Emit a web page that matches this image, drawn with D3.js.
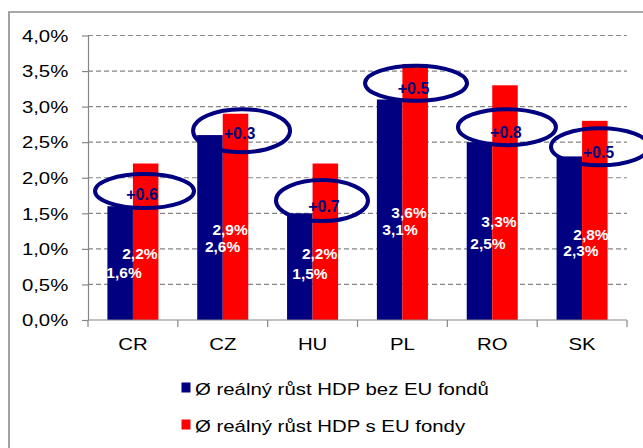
<!DOCTYPE html>
<html>
<head>
<meta charset="utf-8">
<script src="https://cdn.jsdelivr.net/npm/d3@7"></script>
<style>
  html, body { margin: 0; padding: 0; background: #fff; }
  svg { display: block; }
  text { font-family: "Liberation Sans", Arial, sans-serif; }
</style>
</head>
<body>
<svg id="chart" width="643" height="448"></svg>
<script>
// ---- data ----
const categories = ["CR", "CZ", "HU", "PL", "RO", "SK"];
const growthWithoutFunds = [1.6, 2.6, 1.5, 3.1, 2.5, 2.3];
const growthWithFunds = [2.2, 2.9, 2.2, 3.6, 3.3, 2.8];
const yTicks = [0, 0.5, 1.0, 1.5, 2.0, 2.5, 3.0, 3.5, 4.0];
const seriesNames = ["Ø reálný růst HDP bez EU fondů", "Ø reálný růst HDP s EU fondy"];
const titleText = "Průměrný růst s příspěvkem EU fondů a bez nich";

// ---- styling / layout ----
const NAVY = "#000080", RED = "#ff0000", GREY = "#868686";
const FONT_STRETCH = 1.29;
const plot = { left: 88, right: 627, top: 35.5, bottom: 320 };

// value-label anchors: [dx from category centre, height in axis units]
const redLabelAt  = [[7, 0.93], [7.3, 1.27], [7, 0.93], [6.6, 1.51], [6.7, 1.39], [8.9, 1.21]];
const blueLabelAt = [[-8.9, 0.67], [-0.2, 1.03], [-2.6, 0.65], [-2.4, 1.28], [-4.3, 1.07], [-1.1, 0.98]];
// difference callouts: text offset [dx, dy] from blue bar top, ellipse [dx, dy, rx, ry] from text
const calloutText = [[9.1, -11.6], [16.8, -1.4], [11.4, -6.7], [11.1, -10.8], [13.7, -9.5], [16.4, -4.2]];
const calloutRing = [[2.5, -3.5, 49.5, 17], [2, -3, 48.5, 21.5], [-2, -6, 46, 20.5],
                     [2.5, -5.5, 51, 17.5], [1, -5.5, 49, 18], [1.5, -5.5, 49, 18.5]];

const svg = d3.select("#chart");

// title (sits above the frame; only its lowest strokes fall inside the page)
svg.append("text")
  .attr("transform", `translate(22,-3) scale(${FONT_STRETCH},1)`)
  .attr("font-size", 16).attr("font-weight", "bold").attr("fill", "#000")
  .text(titleText);

// chart frame
svg.append("path")
  .attr("d", `M9,460 L9,12 L660,12`)
  .attr("fill", "none").attr("stroke", "#8c8c8c").attr("stroke-width", 1.6);

// scales
const y = d3.scaleLinear().domain([0, 4]).range([plot.bottom, plot.top]);
const pIn = 0.432;
const x = d3.scaleBand().domain(categories).range([plot.left, plot.right])
  .paddingInner(pIn).paddingOuter(pIn / 2);
const xSub = d3.scaleBand().domain([0, 1]).range([0, x.bandwidth()]);
const centre = c => x(c) + x.bandwidth() / 2;

// gridlines
svg.append("g").selectAll("line")
  .data(yTicks.filter(t => t > 0))
  .join("line")
  .attr("x1", plot.left).attr("x2", plot.right)
  .attr("y1", d => y(d)).attr("y2", d => y(d))
  .attr("stroke", GREY).attr("stroke-width", 1.2)
  .attr("stroke-dasharray", "5,3");

// y axis
const yAxis = svg.append("g")
  .attr("transform", `translate(${plot.left},0)`)
  .call(d3.axisLeft(y).tickValues(yTicks).tickSize(6).tickSizeOuter(0)
    .tickFormat(d => d.toFixed(1).replace(".", ",") + "%"));
yAxis.select(".domain").attr("stroke", GREY).attr("stroke-width", 1.2);
yAxis.selectAll(".tick line").attr("stroke", GREY).attr("stroke-width", 1.2);
yAxis.selectAll(".tick text")
  .attr("font-size", 15.8).attr("font-family", "'Liberation Sans', Arial, sans-serif")
  .attr("fill", "#000")
  .attr("x", -19.7 / FONT_STRETCH)
  .attr("dy", "0.36em")
  .attr("transform", `scale(${FONT_STRETCH},1)`);

// bars
const series = [growthWithoutFunds, growthWithFunds];
const colors = [NAVY, RED];
series.forEach((vals, s) => {
  svg.append("g").selectAll("rect")
    .data(vals)
    .join("rect")
    .attr("x", (d, i) => x(categories[i]) + xSub(s))
    .attr("width", xSub.bandwidth())
    .attr("y", d => y(d))
    .attr("height", d => y(0) - y(d))
    .attr("fill", colors[s]);
});

// x axis
const xAxis = svg.append("g")
  .attr("transform", `translate(0,${plot.bottom})`)
  .call(d3.axisBottom(x).tickSize(0).tickSizeOuter(0).tickFormat(""));
xAxis.select(".domain").attr("stroke", GREY).attr("stroke-width", 1.2)
  .attr("d", `M${plot.left},0H${plot.right}`);
svg.append("g").selectAll("line")
  .data(d3.range(categories.length + 1))
  .join("line")
  .attr("x1", i => plot.left + i * x.step()).attr("x2", i => plot.left + i * x.step())
  .attr("y1", plot.bottom).attr("y2", plot.bottom + 7)
  .attr("stroke", GREY).attr("stroke-width", 1.2);
svg.append("g").selectAll("text")
  .data(categories)
  .join("text")
  .attr("transform", d => `translate(${centre(d)},350) scale(${FONT_STRETCH},1)`)
  .attr("text-anchor", "middle").attr("font-size", 15.8).attr("fill", "#000")
  .text(d => d);

// value labels
const pct = v => v.toFixed(1).replace(".", ",") + "%";
[[growthWithFunds, redLabelAt], [growthWithoutFunds, blueLabelAt]].forEach(([vals, pos]) => {
  svg.append("g").selectAll("text")
    .data(vals)
    .join("text")
    .attr("x", (d, i) => centre(categories[i]) + pos[i][0])
    .attr("y", (d, i) => y(pos[i][1]))
    .attr("dy", "0.36em")
    .attr("text-anchor", "middle")
    .attr("font-size", 15.5).attr("font-weight", "bold").attr("fill", "#fff")
    .text(d => pct(d));
});

// difference callouts
const diffs = growthWithFunds.map((v, i) => v - growthWithoutFunds[i]);
const calloutG = svg.append("g");
diffs.forEach((d, i) => {
  const tx = centre(categories[i]) + calloutText[i][0];
  const ty = y(growthWithoutFunds[i]) + calloutText[i][1];
  const r = calloutRing[i];
  calloutG.append("ellipse")
    .attr("cx", tx + r[0]).attr("cy", ty + r[1])
    .attr("rx", r[2]).attr("ry", r[3])
    .attr("fill", "none").attr("stroke", NAVY).attr("stroke-width", 4);
  calloutG.append("text")
    .attr("x", tx).attr("y", ty).attr("dy", "0.36em")
    .attr("text-anchor", "middle")
    .attr("font-size", 16).attr("font-weight", "bold").attr("fill", NAVY)
    .text("+" + d.toFixed(1));
});

// legend
const legend = svg.append("g");
seriesNames.forEach((name, s) => {
  const base = 395 + s * 37;
  legend.append("rect")
    .attr("x", 181.5).attr("y", base - 12.5).attr("width", 9).attr("height", 10)
    .attr("fill", colors[s]);
  legend.append("text")
    .attr("transform", `translate(195,${base}) scale(${FONT_STRETCH},1)`)
    .attr("font-size", 15.8).attr("fill", "#000")
    .text(name);
});
</script>
</body>
</html>
